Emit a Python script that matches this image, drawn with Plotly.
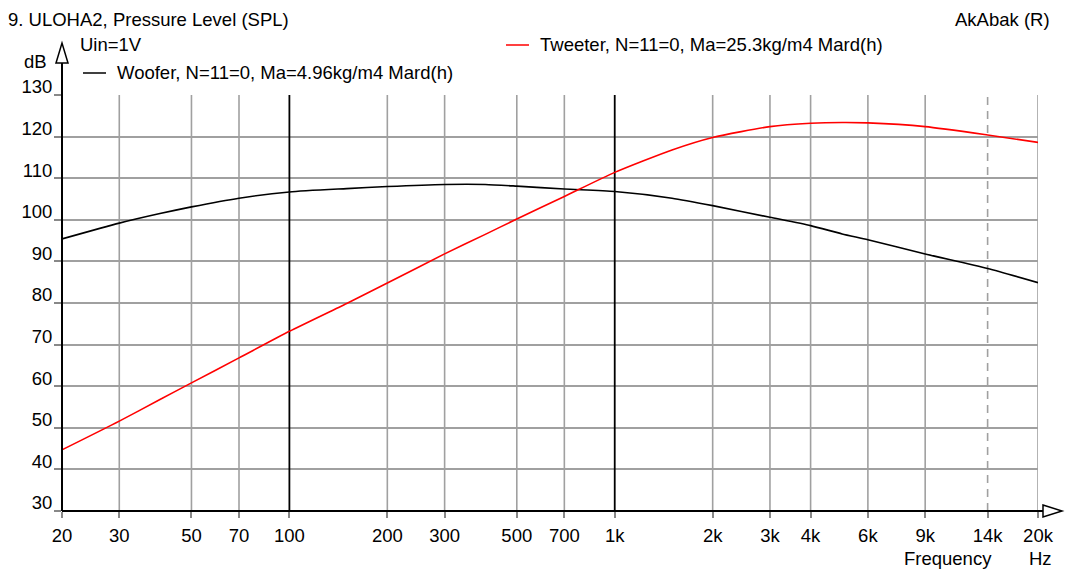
import math
import plotly.graph_objects as go

# ---- data ----
freq_hz = [20, 30, 40, 50, 70, 100, 150, 200, 300, 400, 500, 700, 1000, 1500,
           2000, 3000, 4000, 5000, 6000, 9000, 14000, 20000]
woofer_db = [95.4, 99.2, 101.5, 103.1, 105.2, 106.7, 107.5, 108.0, 108.5, 108.5,
             108.1, 107.4, 106.8, 105.2, 103.4, 100.6, 98.6, 96.6, 95.2, 91.8, 88.3, 84.9]
tweeter_db = [44.7, 51.6, 56.8, 60.8, 66.8, 73.2, 79.9, 84.8, 91.8, 96.5,
              100.2, 105.6, 111.4, 116.8, 119.8, 122.4, 123.2, 123.4, 123.3, 122.4, 120.4, 118.6]

x_tick_vals = [20, 30, 50, 70, 100, 200, 300, 500, 700, 1000, 2000, 3000, 4000,
               6000, 9000, 14000, 20000]
x_tick_text = ["20", "30", "50", "70", "100", "200", "300", "500", "700", "1k",
               "2k", "3k", "4k", "6k", "9k", "14k", "20k"]
y_tick_vals = [30, 40, 50, 60, 70, 80, 90, 100, 110, 120, 130]
decade_lines = [100, 1000]
dashed_lines = [14000]
gray_lines = [v for v in x_tick_vals if v not in decade_lines + dashed_lines]

woofer_name = "Woofer, N=11=0, Ma=4.96kg/m4 Mard(h)"
tweeter_name = "Tweeter, N=11=0, Ma=25.3kg/m4 Mard(h)"

# ---- layout geometry (pixels) ----
W, H = 1069, 572
L, R, T, B = 62, 1038, 95, 511
FONT = "Liberation Sans"
FS = 18.5


def px(x):
    return (x - L) / (R - L)


def py(y):
    return (B - y) / (B - T)


def vlines(vals):
    xs, ys = [], []
    for v in vals:
        xs += [v, v, None]
        ys += [y_tick_vals[0], y_tick_vals[-1], None]
    return xs, ys


fig = go.Figure()
gx, gy = vlines(gray_lines)
fig.add_trace(go.Scatter(x=gx, y=gy, mode="lines", line=dict(color="#a0a0a0", width=1.6),
                         hoverinfo="skip", showlegend=False))
dx, dy = vlines(dashed_lines)
fig.add_trace(go.Scatter(x=dx, y=dy, mode="lines",
                         line=dict(color="#a0a0a0", width=1.6, dash="8px,6px"),
                         hoverinfo="skip", showlegend=False))
kx, ky = vlines(decade_lines)
fig.add_trace(go.Scatter(x=kx, y=ky, mode="lines", line=dict(color="#000000", width=1.8),
                         hoverinfo="skip", showlegend=False))

fig.add_trace(go.Scatter(x=freq_hz, y=woofer_db, mode="lines", name=woofer_name,
                         line=dict(color="#000000", width=1.6, shape="spline", smoothing=0.6),
                         showlegend=False))
fig.add_trace(go.Scatter(x=freq_hz, y=tweeter_db, mode="lines", name=tweeter_name,
                         line=dict(color="#ff0000", width=1.6, shape="spline", smoothing=0.6),
                         showlegend=False))

shapes = [
    # x axis line + arrow
    dict(type="line", xref="paper", yref="paper", x0=px(L), x1=px(1044), y0=py(B), y1=py(B),
         line=dict(color="black", width=2)),
    dict(type="path", xref="paper", yref="paper",
         path=f"M {px(1043)} {py(505)} L {px(1062)} {py(B)} L {px(1043)} {py(517)} Z",
         fillcolor="white", line=dict(color="black", width=1.5)),
    # y axis line + arrow
    dict(type="line", xref="paper", yref="paper", x0=px(L), x1=px(L), y0=py(B), y1=py(62),
         line=dict(color="black", width=2)),
    dict(type="path", xref="paper", yref="paper",
         path=f"M {px(56)} {py(63)} L {px(L)} {py(43)} L {px(68)} {py(63)} Z",
         fillcolor="white", line=dict(color="black", width=1.5)),
    # legend samples
    dict(type="line", xref="paper", yref="paper", x0=px(83), x1=px(106), y0=py(73), y1=py(73),
         line=dict(color="black", width=1.5)),
    dict(type="line", xref="paper", yref="paper", x0=px(506), x1=px(529), y0=py(45), y1=py(45),
         line=dict(color="#ff0000", width=1.5)),
]


def ann(text, x, y, xanchor="left"):
    return dict(text=text, xref="paper", yref="paper", x=px(x), y=py(y), xanchor=xanchor,
                yanchor="middle", showarrow=False, font=dict(family=FONT, size=FS, color="black"))


annotations = [
    ann("9. ULOHA2, Pressure Level (SPL)", 6, 19),
    ann("AkAbak (R)", 1052, 19, "right"),
    ann("Uin=1V", 78, 45),
    ann(woofer_name, 115, 72),
    ann(tweeter_name, 538, 45),
    ann("dB", 49, 61, "right"),
    ann("Frequency", 948, 558, "center"),
    ann("Hz", 1040, 558, "center"),
]

fig.update_layout(
    width=W, height=H,
    margin=dict(l=L, r=W - R, t=T, b=H - B, pad=0),
    paper_bgcolor="white", plot_bgcolor="white",
    font=dict(family=FONT, size=FS, color="black"),
    shapes=shapes, annotations=annotations, showlegend=False,
    xaxis=dict(type="log", range=[math.log10(20), math.log10(20000)],
               tickvals=x_tick_vals, ticktext=x_tick_text, showgrid=False, zeroline=False,
               showline=False, ticks="outside", ticklen=6, tickcolor="#888888", tickwidth=1.5,
               ticklabelstandoff=2,
               tickfont=dict(family=FONT, size=FS, color="black")),
    yaxis=dict(range=[30, 130], tickvals=y_tick_vals, showgrid=True, gridcolor="#a0a0a0",
               gridwidth=1.6, zeroline=False, showline=False, ticks="outside", ticklen=7,
               tickcolor="#888888", tickwidth=1.5, ticklabelshift=-8, ticklabelstandoff=-2,
               tickfont=dict(family=FONT, size=FS, color="black")),
)

fig.write_html("out.html")
